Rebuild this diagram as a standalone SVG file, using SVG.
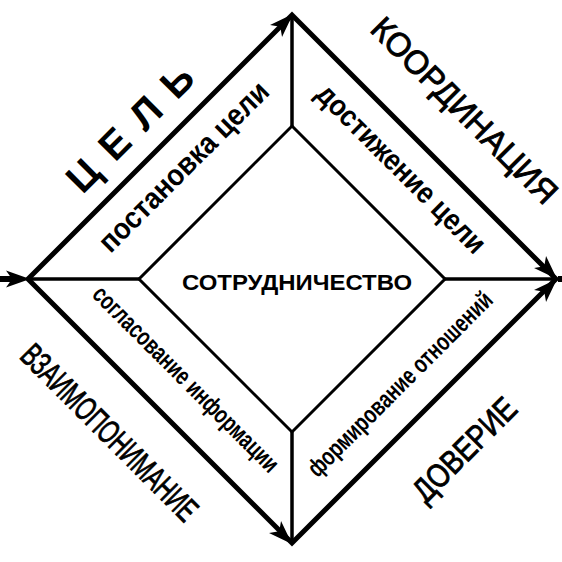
<svg xmlns="http://www.w3.org/2000/svg" xmlns:xlink="http://www.w3.org/1999/xlink" width="562" height="562" viewBox="0 0 562 562">
<style>
.outer{fill:none;stroke:#000;stroke-width:5;stroke-linejoin:miter}
.inner{fill:none;stroke:#000;stroke-width:3}
.conn{stroke:#000;stroke-width:3.5}
.flow{stroke:#000;stroke-width:6}
.ah{fill:#000}
text{font-family:"Liberation Sans",Arial,sans-serif;fill:#000;text-anchor:middle}
.big{font-size:33px;stroke:#000;stroke-width:0.9}
.goal{font-size:40px;font-weight:bold}
.band{font-size:30px;font-weight:bold}
.band2{font-size:25px;font-weight:bold}
.center{font-size:22px;font-weight:bold}
</style>
<defs>
<path id="arr" class="ah" d="M0,0 L-24,-8.5 L-18,0 L-24,8.5 Z"/>
</defs>
<rect width="562" height="562" fill="#fff"/>
<g id="connectors">
<polygon class="outer" points="28,279 292,15 556,279 292,543"/>
<line class="flow" x1="0" y1="279" x2="20" y2="279"/>
<line class="flow" x1="558" y1="279" x2="562" y2="279"/>
<line class="conn" x1="28" y1="279" x2="139" y2="279"/>
<line class="conn" x1="292" y1="15" x2="292" y2="126"/>
<line class="conn" x1="445" y1="279" x2="556" y2="279"/>
<line class="conn" x1="292" y1="432" x2="292" y2="543"/>
<use xlink:href="#arr" transform="translate(30,279)"/>
<use xlink:href="#arr" transform="translate(293,14) rotate(-45)"/>
<use xlink:href="#arr" transform="translate(557,279) rotate(45)"/>
<use xlink:href="#arr" transform="translate(557,279) rotate(-45)"/>
<use xlink:href="#arr" transform="translate(292,544) rotate(45)"/>
</g>
<g id="node-center">
<polygon class="inner" points="139,279 292,126 445,279 292,432"/>
<text class="center" x="297" y="290" textLength="230" lengthAdjust="spacingAndGlyphs">СОТРУДНИЧЕСТВО</text>
</g>
<g id="node-goal">
<text class="goal" transform="translate(130,128) rotate(-45)" y="14" textLength="162" lengthAdjust="spacing">ЦЕЛЬ</text>
<text class="band" transform="translate(185,168) rotate(-45)" y="8" textLength="227" lengthAdjust="spacingAndGlyphs">постановка цели</text>
</g>
<g id="node-coord">
<text class="big" transform="translate(465,110) rotate(45)" y="12" textLength="248" lengthAdjust="spacingAndGlyphs">КООРДИНАЦИЯ</text>
<text class="band" transform="translate(400,170) rotate(45)" y="8" textLength="226" lengthAdjust="spacingAndGlyphs">достижение цели</text>
</g>
<g id="node-understanding">
<text class="big" transform="translate(110,432) rotate(45)" y="12" textLength="235" lengthAdjust="spacingAndGlyphs">ВЗАИМОПОНИМАНИЕ</text>
<text class="band2" transform="translate(185,380) rotate(45)" y="7" textLength="252" lengthAdjust="spacingAndGlyphs">согласование информации</text>
</g>
<g id="node-trust">
<text class="big" transform="translate(464,449) rotate(-45)" y="12" textLength="132" lengthAdjust="spacingAndGlyphs">ДОВЕРИЕ</text>
<text class="band2" transform="translate(401,385) rotate(-45)" y="7" textLength="250" lengthAdjust="spacingAndGlyphs">формирование отношений</text>
</g>
</svg>
